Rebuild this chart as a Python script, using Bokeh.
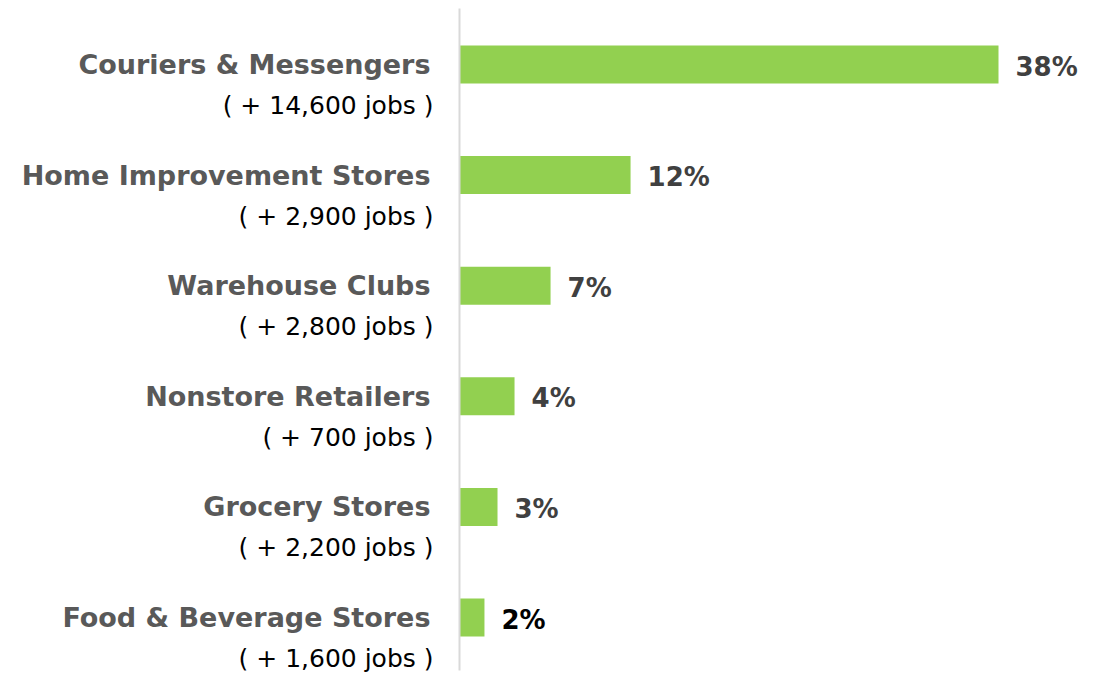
from bokeh.plotting import figure
from bokeh.models import Range1d, ColumnDataSource
from bokeh.core.properties import value
from bokeh.embed import file_html
from bokeh.resources import INLINE

categories = ["Couriers & Messengers", "Home Improvement Stores", "Warehouse Clubs",
              "Nonstore Retailers", "Grocery Stores", "Food & Beverage Stores"]
jobs = ["( + 14,600 jobs )", "( + 2,900 jobs )", "( + 2,800 jobs )",
        "( + 700 jobs )", "( + 2,200 jobs )", "( + 1,600 jobs )"]
values = [38.0, 12.06, 6.42, 3.88, 2.68, 1.76]
labels = ["38%", "12%", "7%", "4%", "3%", "2%"]
label_colors = ["#404040", "#404040", "#404040", "#404040", "#404040", "#000000"]

W, H = 1099, 677
axis_px = 459
px_per = 539.0 / 38.0
row_px = 110.6
first_px = 64

rows = list(range(len(categories)))
src = ColumnDataSource(dict(y=rows, v=values, cat=categories, jobs=jobs,
                            lab=labels, lc=label_colors))

x_range = Range1d(start=-axis_px / px_per, end=(W - axis_px) / px_per)
y_top = -first_px / row_px
y_bot = (H - first_px) / row_px
y_range = Range1d(start=y_bot, end=y_top)

p = figure(width=W, height=H, x_range=x_range, y_range=y_range,
           output_backend="svg", toolbar_location=None, min_border=0)
p.axis.visible = False
p.grid.visible = False
p.outline_line_color = None
p.background_fill_color = "white"

p.hbar(y="y", left=0, right="v", height=38 / row_px, source=src,
       fill_color="#92D050", line_color=None)

p.segment(x0=[0], y0=[(8 - first_px) / row_px], x1=[0], y1=[(670 - first_px) / row_px],
          line_color="#d9d9d9", line_width=2)

p.text(x=0, y="y", text="cat", source=src, x_offset=-29, y_offset=0,
       text_align="right", text_baseline="middle",
       text_font=value("DejaVu Sans"), text_font_style="bold",
       text_font_size="27px", text_color="#595959")
p.text(x=0, y="y", text="jobs", source=src, x_offset=-26, y_offset=41,
       text_align="right", text_baseline="middle",
       text_font=value("DejaVu Sans"), text_font_size="25px", text_color="#000000")
p.text(x="v", y="y", text="lab", source=src, x_offset=17, y_offset=2,
       text_align="left", text_baseline="middle",
       text_font=value("DejaVu Sans"), text_font_style="bold",
       text_font_size="26px", text_color="lc")

open("out.html", "w").write(file_html(p, INLINE))
